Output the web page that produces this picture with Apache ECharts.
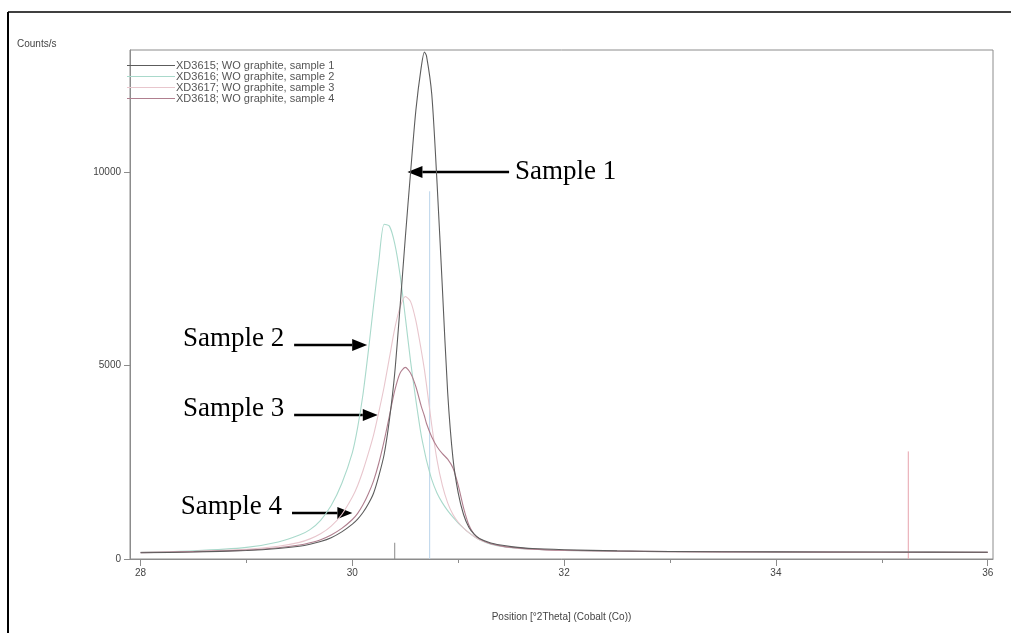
<!DOCTYPE html>
<html><head><meta charset="utf-8">
<script src="https://cdn.jsdelivr.net/npm/echarts@6/dist/echarts.min.js"></script>
<style>html,body{margin:0;padding:0;background:#fff}#c{width:1011px;height:633px}</style>
</head><body><div id="c"></div>
<script>
// ---- data ----
const twoTheta = [28, 28.5, 29, 29.3, 29.5, 29.6, 29.7, 29.8, 29.9, 30.0, 30.05, 30.1, 30.15, 30.2, 30.25, 30.3, 30.35, 30.4, 30.45, 30.5, 30.55, 30.6, 30.65, 30.68, 30.7, 30.75, 30.8, 30.85, 30.9, 30.95, 31.0, 31.05, 31.1, 31.15, 31.2, 31.3, 31.4, 31.5, 31.7, 32, 32.5, 33, 34, 35, 36];
const sample1 = [160,180,220,270,330,380,450,550,700,900,1030,1200,1420,1700,2150,2700,3600,4800,6500,8300,10000,11600,12700,13100,13000,12000,9700,7000,4300,2600,1700,1150,820,640,530,420,360,320,270,240,210,195,185,180,175];
const sample2 = [170,210,300,440,620,760,1000,1380,1950,2750,3400,4250,5350,6550,7700,8650,8600,8150,7350,6250,5100,4100,3200,2800,2550,2050,1700,1450,1250,1080,930,800,680,580,500,390,330,290,250,220,200,190,180,175,170];
const sample3 = [170,195,250,330,430,520,650,850,1150,1600,1900,2280,2720,3200,3800,4450,5200,5950,6500,6780,6650,6150,5400,4900,4500,3450,2550,1900,1450,1150,950,800,680,580,500,400,340,300,250,220,200,190,180,175,170];
const sample4 = [165,190,230,290,360,420,500,620,790,1020,1180,1400,1680,2020,2480,3050,3700,4350,4800,4950,4800,4450,3950,3700,3500,3150,2900,2720,2580,2350,1900,1320,880,640,520,400,340,300,255,225,205,190,180,175,170];
const seriesNames = ['XD3615; WO graphite, sample 1','XD3616; WO graphite, sample 2','XD3617; WO graphite, sample 3','XD3618; WO graphite, sample 4'];
const stickPos = [30.40, 30.73, 35.25];
const stickHeight = [420, 9500, 2780];
const xTickLabels = [28, 30, 32, 34, 36];
const xMinorTicks = [29, 31, 33, 35];
const yTickLabels = [0, 5000, 10000];
// annotations: label, arrow tail x, arrow tip x, y (data units)
const annoLabels = ['Sample 1','Sample 2','Sample 3','Sample 4'];
const annoTail = [31.48, 29.45, 29.45, 29.43];
const annoTip  = [30.52, 30.14, 30.24, 30.00];
const annoY    = [10000, 5530, 3720, 1190];

// ---- chart ----
const colors = ['#5c5c5c','#a9d9cb','#e8c6cd','#b07f8f'];
const stickColors = ['#8a8a8a','#b9d3ea','#e7a3ad'];
const pairs = arr => twoTheta.map((x,i)=>[x,arr[i]]);
const samples = [sample1,sample2,sample3,sample4];
const XMIN = 27.9, XMAX = 36.05, YMAX = 13150;

const series = [];
stickPos.forEach((p,i)=>series.push({
  type:'line', silent:true, symbol:'none', animation:false,
  data:[[p,0],[p,stickHeight[i]]],
  lineStyle:{color:stickColors[i], width:1}, z:1
}));
samples.forEach((s,i)=>series.push({
  name: seriesNames[i], type:'line', data:pairs(s), symbol:'none',
  smooth:0.25, animation:false,
  lineStyle:{color:colors[i], width:1.1}, itemStyle:{color:colors[i]}, z:2+(i===0?1:0)
}));

const chart = echarts.init(document.getElementById('c'), null, {renderer:'canvas'});
const axisText = {color:'#444', fontSize:10, fontFamily:'Liberation Sans, Arial, sans-serif'};
chart.setOption({
  backgroundColor:'#fff',
  animation:false,
  grid:{left:130, right:18, top:50, bottom:74, show:true, borderColor:'#8c8c8c', borderWidth:1},
  legend:{
    show:true, orient:'vertical', left:122, top:55, itemGap:0, itemWidth:48, itemHeight:8,
    icon:'path://M0,5 L48,5 L48,6 L0,6 Z',
    textStyle:{color:'#555', fontSize:11, lineHeight:10, fontFamily:'Liberation Sans, Arial, sans-serif', padding:[0,0,0,-4]},
    data: seriesNames
  },
  xAxis:[{
    type:'value', min:XMIN, max:XMAX,
    axisLine:{show:true, onZero:false, lineStyle:{color:'#8c8c8c'}},
    axisTick:{show:true, customValues:xTickLabels, length:7, lineStyle:{color:'#8c8c8c'}},
    axisLabel:{show:true, customValues:xTickLabels, ...axisText, margin:9},
    splitLine:{show:false},
    name:'Position [°2Theta] (Cobalt (Co))', nameLocation:'middle', nameGap:53,
    nameTextStyle:{color:'#444', fontSize:10, fontFamily:'Liberation Sans, Arial, sans-serif'}
  },{
    type:'value', min:XMIN, max:XMAX, position:'bottom', gridIndex:0,
    axisLine:{show:false},
    axisTick:{show:true, customValues:xMinorTicks, length:4, lineStyle:{color:'#8c8c8c'}},
    axisLabel:{show:false}, splitLine:{show:false}
  }],
  yAxis:{
    type:'value', min:0, max:YMAX,
    axisLine:{show:true, lineStyle:{color:'#8c8c8c'}},
    axisTick:{show:true, customValues:yTickLabels, length:6, lineStyle:{color:'#8c8c8c'}},
    axisLabel:{show:true, customValues:yTickLabels, ...axisText, margin:9, formatter: v => String(v)},
    splitLine:{show:false}
  },
  series: series
});

// annotations positioned through the chart's own coordinate system
function drawAnnotations(){
  const els = [];
  // outer frame (left + top)
  els.push({type:'line', shape:{x1:8,y1:12,x2:8,y2:633}, style:{stroke:'#000', lineWidth:2}});
  els.push({type:'line', shape:{x1:8,y1:12,x2:1011,y2:12}, style:{stroke:'#000', lineWidth:1.5}});
  els.push({type:'text', left:17, top:39, style:{text:'Counts/s', fill:'#444', font:'10px "Liberation Sans", Arial, sans-serif'}});
  annoLabels.forEach((lab,i)=>{
    const tail = chart.convertToPixel({gridIndex:0}, [annoTail[i], annoY[i]]);
    const tip  = chart.convertToPixel({gridIndex:0}, [annoTip[i], annoY[i]]);
    const dir = tip[0] > tail[0] ? 1 : -1;
    const headLen = 15, headW = 6;
    const baseX = tip[0] - dir*headLen;
    els.push({type:'line', shape:{x1:tail[0], y1:tail[1], x2:baseX, y2:tip[1]}, style:{stroke:'#000', lineWidth:2.5}});
    els.push({type:'polygon', shape:{points:[[tip[0],tip[1]],[baseX,tip[1]-headW],[baseX,tip[1]+headW]]}, style:{fill:'#000'}});
    const fontStr = '27px "Liberation Serif", "Times New Roman", serif';
    if (dir < 0) {
      els.push({type:'text', x:tail[0]+6, y:tip[1], style:{text:lab, fill:'#000', font:fontStr, textAlign:'left', textVerticalAlign:'middle'}});
    } else {
      els.push({type:'text', x:tail[0]-10, y:tip[1]-6, style:{text:lab, fill:'#000', font:fontStr, textAlign:'right', textVerticalAlign:'middle'}});
    }
  });
  chart.setOption({graphic:{elements:els}});
}
drawAnnotations();
</script>
</body></html>
